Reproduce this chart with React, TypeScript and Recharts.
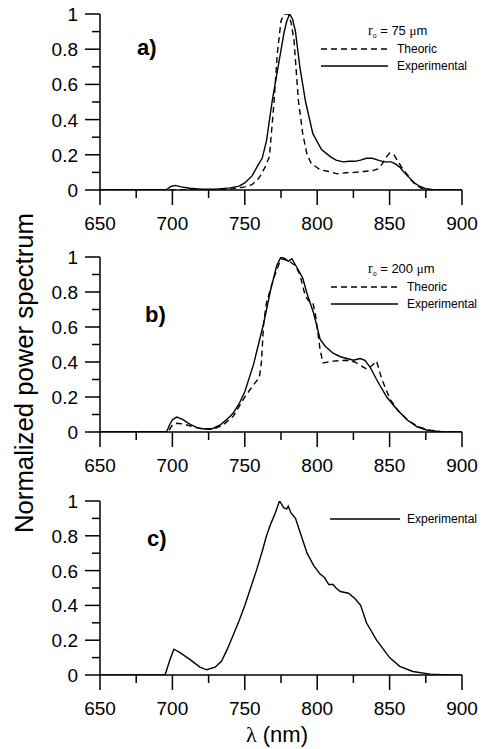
import React from "react";
import { LineChart, Line, XAxis, YAxis } from "recharts";

// wavelength (nm), normalized power
const aExperimental: [number, number][] = [
  [650, 0], [660, 0.002], [670, 0], [680, 0.002], [690, 0.001], [696, 0.003],
  [699, 0.02], [702, 0.026], [706, 0.018], [712, 0.01], [720, 0.005], [730, 0.005],
  [740, 0.012], [746, 0.022], [750, 0.04], [755, 0.08], [759, 0.14], [762, 0.18],
  [765, 0.28], [769, 0.51], [773, 0.7], [777, 0.89], [779, 0.96], [781, 1.0],
  [783, 0.97], [785, 0.9], [788, 0.7], [792, 0.5], [797, 0.32], [803, 0.23],
  [809, 0.19], [813, 0.17], [818, 0.16], [822, 0.163], [826, 0.163], [830, 0.17],
  [834, 0.18], [838, 0.18], [842, 0.17], [846, 0.16], [851, 0.16], [854, 0.148],
  [857, 0.13], [860, 0.1], [863, 0.076], [867, 0.04], [871, 0.02], [875, 0.008],
  [880, 0.002], [890, 0], [900, 0],
];
const aTheoric: [number, number][] = [
  [650, 0], [700, 0], [730, 0], [742, 0.008], [750, 0.018], [755, 0.03],
  [760, 0.07], [764, 0.13], [767, 0.19], [770, 0.48], [772.5, 0.78], [775, 0.96],
  [777, 1.0], [780, 1.0], [782, 0.95], [784, 0.85], [787, 0.51], [790, 0.32],
  [793, 0.2], [796, 0.15], [802, 0.115], [808, 0.105], [814, 0.092], [820, 0.098],
  [826, 0.1], [832, 0.105], [838, 0.11], [842, 0.12], [845, 0.15], [848, 0.19],
  [850, 0.21], [853, 0.2], [856, 0.16], [859, 0.12], [862, 0.09], [865, 0.055],
  [868, 0.03], [872, 0.01], [878, 0.002], [890, 0], [900, 0],
];

const bExperimental: [number, number][] = [
  [650, 0], [670, 0], [690, 0], [696, 0.001], [698, 0.04], [700, 0.07],
  [703, 0.085], [707, 0.072], [712, 0.045], [717, 0.025], [722, 0.017], [728, 0.02],
  [733, 0.04], [738, 0.075], [742, 0.108], [746, 0.16], [750, 0.23], [756, 0.385],
  [763, 0.62], [767.5, 0.8], [772, 0.95], [775, 1.0], [778, 0.99], [780, 0.975],
  [782.5, 0.99], [786, 0.94], [790, 0.88], [793, 0.79], [797.5, 0.68], [802, 0.53],
  [805.5, 0.49], [811, 0.45], [816, 0.43], [820.5, 0.42], [825, 0.41], [829.7, 0.42],
  [833, 0.41], [836.6, 0.37], [841, 0.3], [848, 0.2], [855, 0.13], [862, 0.07],
  [869, 0.03], [876, 0.01], [885, 0.002], [900, 0],
];
const bTheoric: [number, number][] = [
  [650, 0], [690, 0], [697, 0.002], [700, 0.04], [703, 0.05], [708, 0.045],
  [714, 0.03], [720, 0.018], [728, 0.015], [735, 0.04], [742, 0.09], [750, 0.2],
  [756, 0.27], [760, 0.31], [761.5, 0.4], [763, 0.62], [765, 0.74], [770, 0.88],
  [775, 0.99], [780, 0.98], [785, 0.95], [788, 0.9], [791.7, 0.78], [794, 0.75],
  [797, 0.74], [799, 0.66], [802, 0.47], [804, 0.395], [811, 0.405], [820, 0.41],
  [826, 0.4], [830, 0.38], [834, 0.36], [838, 0.38], [841, 0.405], [844.7, 0.3],
  [850.5, 0.185], [857, 0.11], [864, 0.06], [870, 0.03], [878, 0.01], [886, 0.002],
  [900, 0],
];

const cExperimental: [number, number][] = [
  [650, 0], [670, 0], [690, 0], [695, 0.001], [698, 0.08], [701, 0.148],
  [705, 0.13], [712, 0.09], [719, 0.045], [723.7, 0.03], [729.5, 0.045], [734, 0.08],
  [738, 0.15], [742, 0.23], [746, 0.31], [750, 0.4], [754, 0.5], [758, 0.6],
  [762, 0.71], [765, 0.8], [768, 0.87], [771, 0.93], [774, 1.0], [777, 0.96],
  [779, 0.955], [780, 0.97], [782, 0.93], [785, 0.9], [789, 0.8], [793, 0.7],
  [797.5, 0.63], [802, 0.58], [805, 0.56], [808, 0.52], [811, 0.52], [813, 0.5],
  [816, 0.48], [821.6, 0.47], [826, 0.44], [830, 0.4], [834, 0.3], [841, 0.2],
  [850, 0.1], [857, 0.05], [866, 0.02], [878, 0.005], [890, 0.001], [900, 0],
];

const xTicks = [650, 675, 700, 725, 750, 775, 800, 825, 850, 875, 900];
const yTicks = [0, 0.1, 0.2, 0.3, 0.4, 0.5, 0.6, 0.7, 0.8, 0.9, 1];

const FONT = "'Liberation Sans', Arial, sans-serif";
const SERIF = "'Liberation Serif', 'Times New Roman', serif";

const toRows = (pts: [number, number][]) => pts.map(([nm, v]) => ({ nm, v }));

const XTick = (props: any) => {
  const { x, y, payload } = props;
  const v = payload.value;
  const major = v % 50 === 0;
  return (
    <g>
      <line x1={x} x2={x} y1={y} y2={y + (major ? 15 : 8)} stroke="#000" strokeWidth={1.5} />
      {major && (
        <text x={x} y={y + 40} textAnchor="middle" fontSize={19} fontFamily={FONT} fill="#000">
          {v}
        </text>
      )}
    </g>
  );
};

const YTick = (props: any) => {
  const { x, y, payload } = props;
  const v = payload.value;
  const major = Math.round(v * 10) % 2 === 0;
  const label = v === 0 ? "0" : v === 1 ? "1" : v.toFixed(1);
  return (
    <g>
      <line x1={x - (major ? 15 : 8)} x2={x} y1={y} y2={y} stroke="#000" strokeWidth={1.5} />
      {major && (
        <text x={x - 22} y={y + 7} textAnchor="end" fontSize={19} fontFamily={FONT} fill="#000">
          {label}
        </text>
      )}
    </g>
  );
};

function Panel({ top, plotH, series }: { top: number; plotH: number; series: { pts: [number, number][]; dashed?: boolean }[] }) {
  return (
    <div style={{ position: "absolute", left: 0, top: top - 15 }}>
      <LineChart width={481} height={plotH + 15 + 45} margin={{ top: 15, right: 19, left: 0, bottom: 5 }}>
        <XAxis
          dataKey="nm"
          type="number"
          domain={[650, 900]}
          ticks={xTicks}
          interval={0}
          height={40}
          tickSize={0}
          tickMargin={0}
          tickLine={false}
          tick={<XTick />}
          axisLine={{ stroke: "#000", strokeWidth: 1.5 }}
          allowDataOverflow
        />
        <YAxis
          type="number"
          domain={[0, 1]}
          ticks={yTicks}
          interval={0}
          width={100}
          tickSize={0}
          tickMargin={0}
          tickLine={false}
          tick={<YTick />}
          axisLine={{ stroke: "#000", strokeWidth: 1.5 }}
          allowDataOverflow
        />
        {series.map((s, i) => (
          <Line
            key={i}
            data={toRows(s.pts)}
            dataKey="v"
            type="linear"
            dot={false}
            stroke="#000"
            strokeWidth={1.4}
            strokeDasharray={s.dashed ? "6 4" : undefined}
            isAnimationActive={false}
          />
        ))}
      </LineChart>
    </div>
  );
}

function Legend({ y, label, theoric }: { y: number; label?: string; theoric: boolean }) {
  return (
    <g fontFamily={FONT} fill="#000">
      {label && (
        <text x={368} y={y} fontSize={13}>
          <tspan fontFamily={SERIF} fontSize={14}>r</tspan>
          <tspan fontSize={7} dy={3}>o</tspan>
          <tspan dy={-3}>{` = ${label} `}</tspan>
          <tspan fontFamily={SERIF}>μ</tspan>
          <tspan>m</tspan>
        </text>
      )}
      {theoric && (
        <>
          <line x1={y > 200 ? 331 : 321} x2={y > 200 ? 398 : 388} y1={y + 14} y2={y + 14} stroke="#000" strokeWidth={1.3} strokeDasharray="6 4" />
          <text x={y > 200 ? 407 : 397} y={y + 18} fontSize={12}>Theoric</text>
          <line x1={y > 200 ? 331 : 321} x2={y > 200 ? 398 : 388} y1={y + 31} y2={y + 31} stroke="#000" strokeWidth={1.5} />
          <text x={y > 200 ? 407 : 397} y={y + 35} fontSize={12}>Experimental</text>
        </>
      )}
    </g>
  );
}

export default function App() {
  return (
    <div style={{ position: "absolute", left: 0, top: 0, width: 481, height: 749, background: "#fff" }}>
      <Panel top={14} plotH={176} series={[{ pts: aTheoric, dashed: true }, { pts: aExperimental }]} />
      <Panel top={257} plotH={175} series={[{ pts: bTheoric, dashed: true }, { pts: bExperimental }]} />
      <Panel top={501} plotH={174} series={[{ pts: cExperimental }]} />
      <svg width={481} height={749} style={{ position: "absolute", left: 0, top: 0, pointerEvents: "none" }}>
        <text
          transform="translate(33,373) rotate(-90)"
          textAnchor="middle"
          fontSize={26}
          fontFamily={FONT}
          textLength={320}
          lengthAdjust="spacingAndGlyphs"
        >
          Normalized power spectrum
        </text>
        <text x={277} y={742} textAnchor="middle" fontSize={22} fontFamily={FONT}>
          <tspan fontFamily={SERIF}>λ</tspan> (nm)
        </text>
        <text x={137} y={55} fontSize={22} fontWeight="bold" fontFamily={FONT}>a)</text>
        <text x={145} y={322} fontSize={22} fontWeight="bold" fontFamily={FONT}>b)</text>
        <text x={147} y={546} fontSize={22} fontWeight="bold" fontFamily={FONT}>c)</text>
        <Legend y={35} label="75" theoric />
        <Legend y={273} label="200" theoric />
        <line x1={330} x2={400} y1={519} y2={519} stroke="#000" strokeWidth={1.5} />
        <text x={407} y={523} fontSize={12} fontFamily={FONT}>Experimental</text>
      </svg>
    </div>
  );
}
